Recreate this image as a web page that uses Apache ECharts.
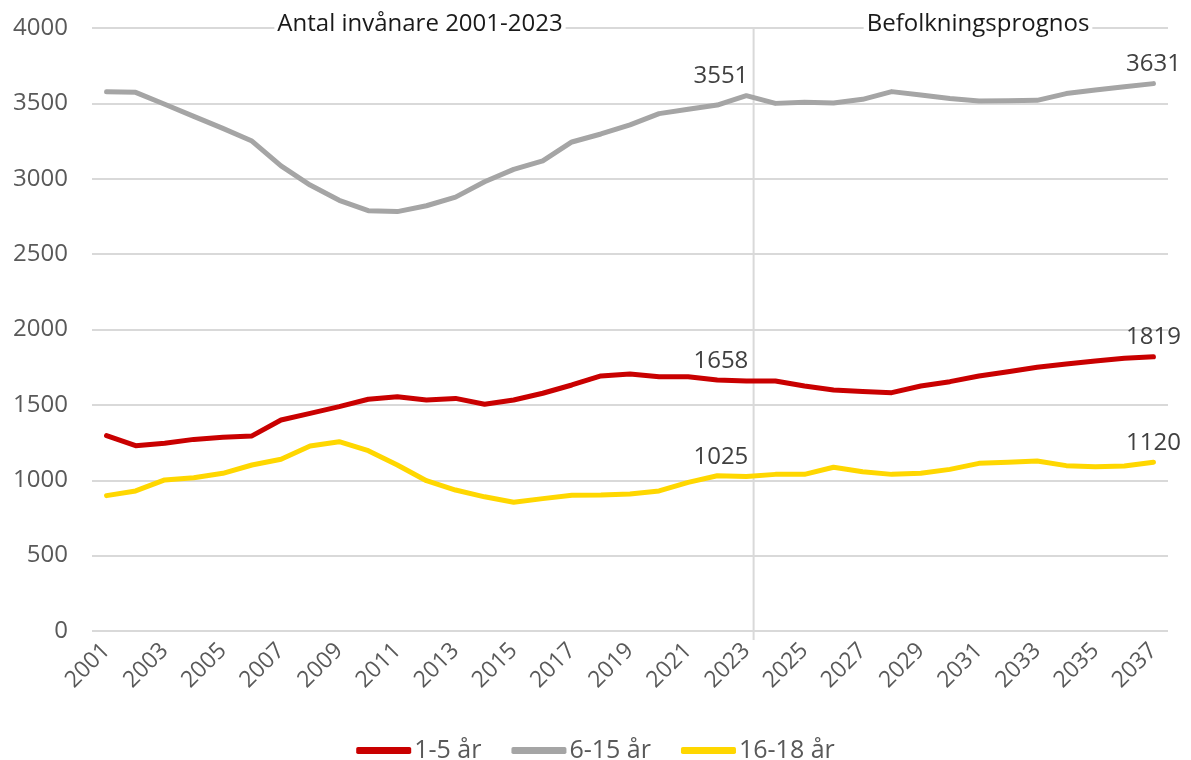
<!DOCTYPE html>
<html><head><meta charset="utf-8">
<script src="https://cdn.jsdelivr.net/npm/echarts@6/dist/echarts.min.js"></script>
<style>html,body{margin:0;padding:0;background:#fff}#c{width:1191px;height:760px}</style>
</head><body><div id="c"></div>
<script>
const years = [];
for (let y = 2001; y <= 2037; y++) years.push(String(y));
const age1_5 = [1296,1229,1245,1271,1285,1294,1400,1444,1488,1537,1554,1532,1543,1504,1532,1577,1632,1692,1705,1687,1687,1665,1658,1658,1625,1599,1588,1581,1625,1654,1692,1720,1749,1771,1791,1809,1819];
const age6_15 = [3577,3573,3494,3414,3334,3250,3085,2958,2857,2788,2782,2821,2878,2980,3062,3118,3244,3297,3357,3432,3461,3489,3551,3500,3507,3503,3527,3578,3556,3533,3516,3518,3520,3565,3589,3611,3631];
const age16_18 = [898,929,1002,1017,1046,1101,1139,1227,1256,1196,1101,997,935,890,854,878,900,902,909,929,986,1030,1025,1039,1039,1086,1057,1039,1046,1072,1112,1119,1128,1097,1090,1094,1120];
const seriesNames = ['1-5 år','6-15 år','16-18 år'];
const colors = ['#C90000','#A5A5A5','#FFD700'];
const yTicks = {min:0, max:4000, interval:500};
const labelYears = ['2023','2037'];
const forecastBoundary = 22.75; // position on a 0..37 band scale
const periodTitles = ['Antal invånare 2001-2023','Befolkningsprognos'];

const FONT = '"Open Sans", sans-serif';
const TXT = '#595959';

function mkSeries(name, data, color, idx) {
  return {
    name, type:'line', data: data.map((v,i)=>{
      const y = years[i];
      if (y === labelYears[0]) return {value:v, label:{show:true, position:'top', align:'right', offset:[2,-2]}};
      if (y === labelYears[1]) return {value:v, label:{show:true, position:'top', offset:[0,-2]}};
      return v;
    }),
    xAxisIndex:0, yAxisIndex:0,
    symbol:'circle', symbolSize:1, showSymbol:true,
    lineStyle:{color, width:5, cap:'round', join:'round'},
    itemStyle:{color},
    label:{show:false, color:'#404040', fontFamily:FONT, fontSize:24},
    emphasis:{disabled:true},
    z: 3 + idx
  };
}

const chart = echarts.init(document.getElementById('c'));
chart.setOption({
  animation:false,
  backgroundColor:'#fff',
  textStyle:{fontFamily:FONT},
  grid:{left:92, right:23, top:28, bottom:129, containLabel:false},
  xAxis:[{
    type:'category', data:years, boundaryGap:true,
    axisLine:{show:false}, axisTick:{show:false},
    axisLabel:{interval:1, rotate:45, color:TXT, fontFamily:FONT, fontSize:23, margin:16}
  },{
    type:'value', min:0, max:years.length, show:false
  }],
  yAxis:{
    type:'value', min:yTicks.min, max:yTicks.max, interval:yTicks.interval,
    axisLine:{show:false}, axisTick:{show:false},
    axisLabel:{color:TXT, fontFamily:FONT, fontSize:24, margin:24, formatter:v=>String(v)},
    splitLine:{lineStyle:{color:'#D9D9D9', width:2}}
  },
  legend:{
    data:seriesNames, top:733, left:'center',
    itemWidth:55, itemHeight:7, itemGap:30, icon:'roundRect',
    textStyle:{color:TXT, fontFamily:FONT, fontSize:25, padding:[0,0,0,-2]}
  },
  graphic:[
    {type:'text', x:420, y:24, z:100, style:{text:periodTitles[0], fill:'#1a1a1a', font:'24px "Open Sans", sans-serif', textAlign:'center', textVerticalAlign:'middle', backgroundColor:'#fff', padding:[0,3]}},
    {type:'text', x:978, y:24, z:100, style:{text:periodTitles[1], fill:'#1a1a1a', font:'24px "Open Sans", sans-serif', textAlign:'center', textVerticalAlign:'middle', backgroundColor:'#fff', padding:[0,3]}}
  ],
  series:[
    {
      name:'boundary', type:'line', xAxisIndex:1, yAxisIndex:0, silent:true,
      symbol:'none', data:[[forecastBoundary,-60],[forecastBoundary,yTicks.max]],
      lineStyle:{color:'#D9D9D9', width:2}, z:1, clip:false
    },
    mkSeries(seriesNames[0], age1_5, colors[0], 0),
    mkSeries(seriesNames[1], age6_15, colors[1], 1),
    mkSeries(seriesNames[2], age16_18, colors[2], 2)
  ]
});
</script>
</body></html>
